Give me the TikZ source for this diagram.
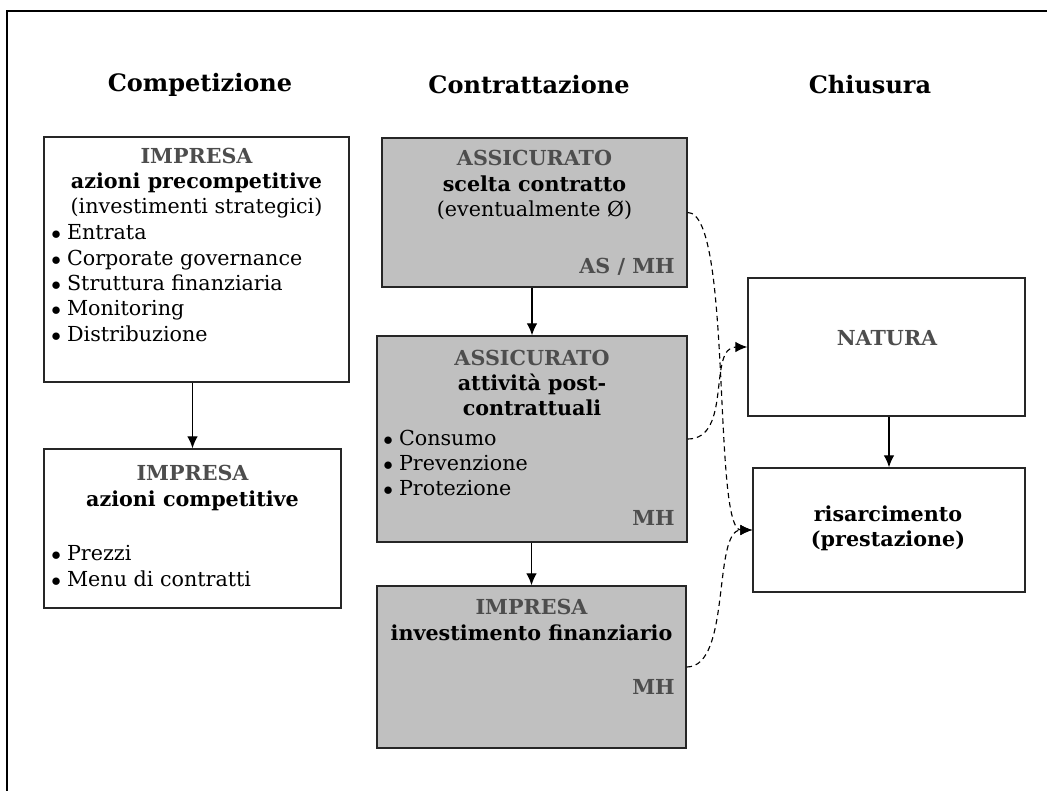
\documentclass[tikz,border=0pt]{standalone}
\usepackage{fontspec}
\setmainfont{DejaVu Serif}
\usetikzlibrary{arrows,arrows.meta,calc}
\definecolor{boxgray}{HTML}{C0C0C0}
\definecolor{labelgray}{HTML}{4D4D4D}
\newcommand{\actor}[1]{{\bfseries\color{labelgray}#1}}
\newcommand{\act}[1]{{\bfseries #1}}
\newcommand{\itm}{$\bullet$\hspace{0.3em}}
\tikzstyle{stage}=[rectangle,draw=black!85,line width=1.1pt,inner sep=0pt]
\tikzstyle{txt}=[inner sep=0pt,align=center,font=\fontsize{15.5}{19}\selectfont]
\tikzstyle{lst}=[txt,align=left]
\tikzstyle{coltitle}=[inner sep=0pt,font=\fontsize{18}{22}\selectfont\bfseries]
\tikzstyle{edge}=[draw,line width=1pt,-{Latex[length=9pt,width=8pt]}]
\tikzstyle{link}=[draw,line width=0.85pt,dash pattern=on 4pt off 3pt,-{Latex[length=9pt,width=8pt]}]

\begin{document}
\begin{tikzpicture}[x=0.75pt,y=-0.75pt]
    \useasboundingbox (0,0) rectangle (1047,790);
    % outer frame (cut at right and bottom)
    \draw[line width=2.2pt] (7,795) -- (7,11) -- (1052,11);

    % column titles
    \foreach \pos/\name/\label in {(200,85)/tcomp/Competizione, (529,85)/tcontr/Contrattazione, (870,85)/tchius/Chiusura}
        \node[coltitle] (\name) at \pos {\label};

    % First we draw the boxes
    \foreach \pos/\name/\w/\h/\shade in {{(196.5,259.5)/pre/305/245/white},
    {(192.5,528.5)/comp/297/159/white},
    {(534.5,212.5)/scelta/305/149/boxgray}, {(532,439)/post/310/206/boxgray},
    {(531.5,667)/inv/309/162/boxgray},
    {(886.5,347)/natura/277/138/white}, {(889,530)/risarc/272/124/white}}
        \node[stage,fill=\shade,minimum width=\w*0.75pt,minimum height=\h*0.75pt] (\name) at \pos {};

    % centred headings inside the boxes
    \foreach \pos/\name/\label in {{(196.5,183)/preH/{\actor{IMPRESA}\\ \act{azioni precompetitive}\\ (investimenti strategici)}},
    {(192.5,488)/compH/{\actor{IMPRESA}\\ \act{azioni competitive}}},
    {(534.5,185)/sceltaH/{\actor{ASSICURATO}\\ \act{scelta contratto}\\ (eventualmente Ø)}},
    {(532,383)/postH/{\actor{ASSICURATO}\\ \act{attività post-}\\ \act{contrattuali}}},
    {(531.5,620)/invH/{\actor{IMPRESA}\\ \act{investimento finanziario}}},
    {(887,338)/naturaH/{\actor{NATURA}}},
    {(888,528)/risarcH/{\act{risarcimento}\\ \act{(prestazione)}}}}
        \node[txt] (\name) at \pos {\label};

    % bullet lists
    \foreach \pos/\name/\label in {{(51,283)/preL/{\itm Entrata\\ \itm Corporate governance\\ \itm Struttura finanziaria\\ \itm Monitoring\\ \itm Distribuzione}},
    {(51,566)/compL/{\itm Prezzi\\ \itm Menu di contratti}},
    {(383,463)/postL/{\itm Consumo\\ \itm Prevenzione\\ \itm Protezione}}}
        \node[lst,anchor=west] (\name) at \pos {\label};

    % problem labels
    \foreach \pos/\name/\label in {{(675,267)/sceltaP/{AS / MH}}, {(675,518)/postP/MH}, {(675,687)/invP/MH}}
        \node[txt,anchor=east] (\name) at \pos {\actor{\label}};

    % Connect boxes with arrows
    \foreach \source/\dest in {pre/comp, scelta/post, post/inv, natura/risarc}
        \path[edge] (\dest.north |- \source.south) -- (\dest.north);
    \foreach \source/\dest in {scelta/risarc, post/natura, inv/risarc}
        \path[link] (\source.east) .. controls +(45,0) and +(-40,0) .. (\dest.west);
\end{tikzpicture}
\end{document}
